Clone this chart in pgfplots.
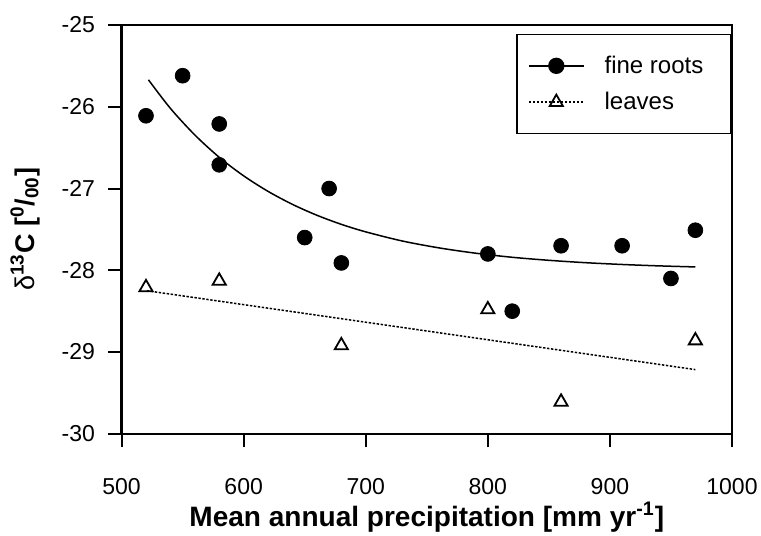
\documentclass[border=0pt]{standalone}
\usepackage{pgfplots}
\pgfplotsset{compat=1.18}
\usepackage{fontspec}
\setmainfont{Liberation Sans}
\usetikzlibrary{calc}
\begin{document}
\begin{tikzpicture}
\begin{axis}[
  scale only axis,
  width=305pt, height=204.25pt,
  xmin=500, xmax=1000, ymin=-30, ymax=-25,
  xtick={500,600,...,1000}, ytick={-30,-29,...,-25},
  /pgf/number format/assume math mode=true,
  /pgf/number format/1000 sep={},
  tick align=outside, tick pos=left,
  major tick length=6.75pt,
  axis line style={line width=1.15pt},
  every tick/.style={black, line width=1pt},
  ticklabel style={font=\fontsize{11.5}{13}\selectfont},
  xticklabel style={yshift=-11.9pt},
  yticklabel style={xshift=-3pt},
  xlabel={\textbf{Mean annual precipitation [mm yr\textsuperscript{-1}]}},
  ylabel={\textbf{\textnormal{δ}\textsuperscript{13}C [\textsuperscript{0}/\textsubscript{00}]}},
  xlabel style={font=\fontsize{14}{16}\selectfont, at={(axis description cs:0.5,-0.2264)}, anchor=base},
  ylabel style={font=\fontsize{13.5}{16}\selectfont, at={(axis description cs:-0.1582,0.5)}, anchor=center},
  legend style={at={(0.9984,0.978)}, anchor=north east, draw=black, line width=0.6pt,
    font=\fontsize{12}{14}\selectfont, inner xsep=5.5pt, inner ysep=10.5pt,
    column sep=10pt, row sep=8pt,
    nodes={inner sep=0pt},
    cells={anchor=west}},
  legend image code/.code={\draw[mark repeat=2,mark phase=2,#1] plot coordinates {(0pt,0pt) (13.75pt,0pt) (27.5pt,0pt)};},
]
% fine roots data
\addplot[only marks, mark=*, mark size=3.7pt, black, forget plot] coordinates {
(520,-26.11) (550,-25.62) (580,-26.21) (580,-26.71) (650,-27.60) (670,-27.00)
(680,-27.91) (800,-27.80) (820,-28.50) (860,-27.70) (910,-27.70) (950,-28.10) (970,-27.51)};
% leaves data
\addplot[only marks, mark=triangle, mark size=3.8pt, black, mark options={line width=0.9pt, fill=white}, forget plot] coordinates {
(520,-28.21) (580,-28.13) (680,-28.92) (800,-28.48) (860,-29.61) (970,-28.86)};
% fitted curve fine roots
\addplot[black, line width=0.75pt, smooth, forget plot] coordinates {
(522,-25.67) (540,-26.02) (560,-26.345) (580,-26.618) (600,-26.845) (620,-27.035)
(640,-27.194) (660,-27.327) (680,-27.438) (700,-27.530) (730,-27.642) (760,-27.726)
(790,-27.791) (820,-27.841) (850,-27.878) (880,-27.907) (910,-27.929) (940,-27.946) (970,-27.959)};
% fitted line leaves
\addplot[black, line width=0.75pt, dash pattern=on 1.2pt off 0.8pt, forget plot] coordinates {(520.7,-28.25) (970,-29.215)};
\addlegendimage{black, line width=0.75pt, mark=*, mark size=3.7pt}
\addlegendentry{fine roots\hspace*{8pt}}
\addlegendimage{black, line width=0.75pt, dash pattern=on 1.2pt off 0.8pt, mark=triangle, mark size=3.8pt, mark options={solid, line width=0.9pt, fill=white}}
\addlegendentry{leaves}
\end{axis}
\pgfresetboundingbox
\path ($(current axis.south west)+(-60.75pt,-50.75pt)$) rectangle ($(current axis.north east)+(14.5pt,12.5pt)$);
\end{tikzpicture}
\end{document}
